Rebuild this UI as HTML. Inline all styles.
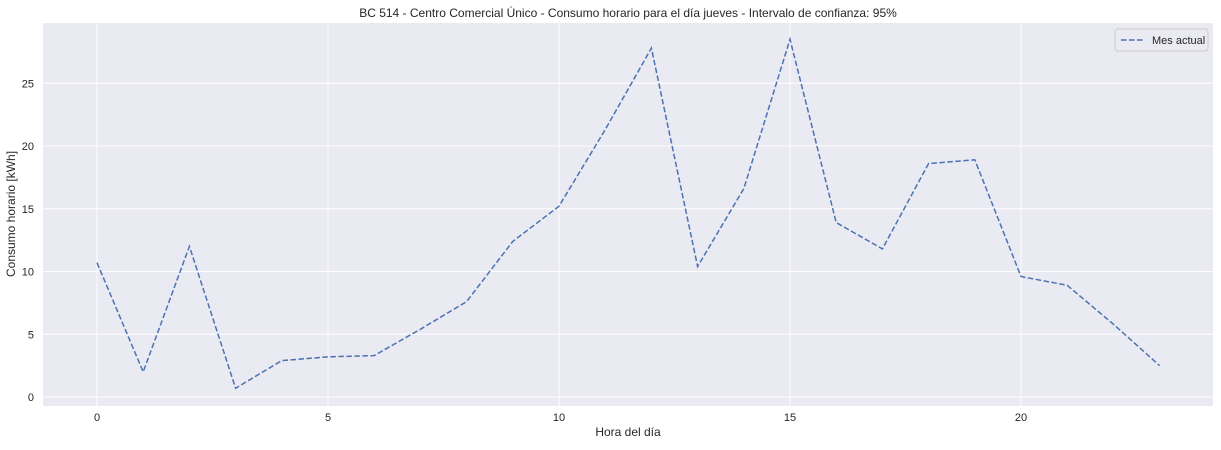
<!DOCTYPE html>
<html><head><meta charset="utf-8"><style>
body{margin:0;background:#fff;font-family:"Liberation Sans",sans-serif}
svg text{font-family:"Liberation Sans",sans-serif;fill:#262626}
</style></head><body>
<svg width="1221" height="445">
<rect x="43" y="23" width="1170" height="383" fill="#eaeaf2"/>
<g id="grid"></g><g id="ticks"></g>
<path id="line" fill="none" stroke="#4c72b0" stroke-width="1.5" stroke-dasharray="5.5,2.5"/>
<text x="628" y="17" text-anchor="middle" font-size="12">BC 514 - Centro Comercial Único - Consumo horario para el día jueves - Intervalo de confianza: 95%</text>
<text x="628" y="436" text-anchor="middle" font-size="12">Hora del día</text>
<text transform="translate(15,214) rotate(-90)" text-anchor="middle" font-size="12">Consumo horario [kWh]</text>
<g>
<rect x="1115" y="29" width="93" height="22" rx="3" fill="#eaeaf2" stroke="#cccccc"/>
<line x1="1121" y1="40" x2="1143" y2="40" stroke="#4c72b0" stroke-width="1.5" stroke-dasharray="5.5,2.5"/>
<text x="1152" y="44" font-size="11">Mes actual</text>
</g>
</svg>
<script>
const hours=[0,1,2,3,4,5,6,7,8,9,10,11,12,13,14,15,16,17,18,19,20,21,22,23];
const values=[10.7,2.0,12.0,0.7,2.9,3.2,3.3,5.4,7.6,12.4,15.2,21.3,27.8,10.4,16.6,28.5,13.9,11.8,18.6,18.9,9.6,8.9,5.8,2.5];
const xTicks=[0,5,10,15,20];
const yTicks=[0,5,10,15,20,25];
const X=v=>97+v*46.2, Y=v=>397-v*12.55;
const ns="http://www.w3.org/2000/svg";
const g=document.getElementById('grid'),t=document.getElementById('ticks');
xTicks.forEach(v=>{
 const l=document.createElementNS(ns,'line');
 l.setAttribute('x1',X(v));l.setAttribute('x2',X(v));l.setAttribute('y1',23);l.setAttribute('y2',406);
 l.setAttribute('stroke','#fff');l.setAttribute('stroke-width','1');
 
 
 g.appendChild(l);
 const s=document.createElementNS(ns,'text');
 s.setAttribute('x',X(v));s.setAttribute('y',421);s.setAttribute('text-anchor','middle');s.setAttribute('font-size','11');
 s.textContent=v;
 
 
 t.appendChild(s);
});
yTicks.forEach(v=>{
 const l=document.createElementNS(ns,'line');
 l.setAttribute('x1',43);l.setAttribute('x2',1213);l.setAttribute('y1',Y(v));l.setAttribute('y2',Y(v));
 l.setAttribute('stroke','#fff');l.setAttribute('stroke-width','1');
 
 
 g.appendChild(l);
 const s=document.createElementNS(ns,'text');
 s.setAttribute('x',34);s.setAttribute('y',Y(v)+4);s.setAttribute('text-anchor','end');s.setAttribute('font-size','11');
 s.textContent=v;
 
 
 t.appendChild(s);
});
document.getElementById('line').setAttribute('d',hours.map((h,i)=>(i?'L':'M')+X(h)+','+Y(values[i])).join(''));
</script>
</body></html>
